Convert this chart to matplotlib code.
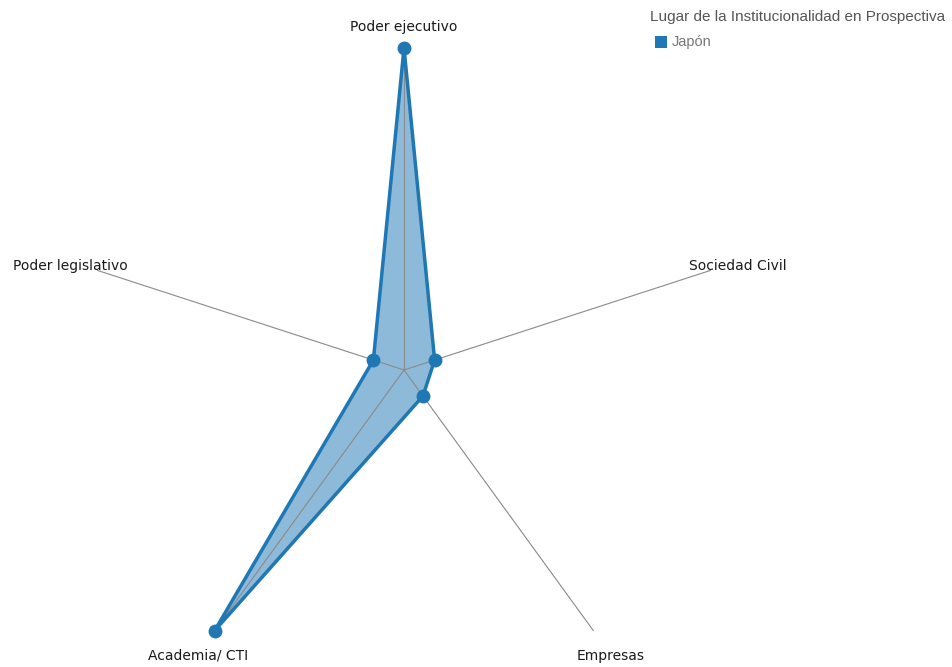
import numpy as np
import matplotlib.pyplot as plt
from matplotlib.patches import Rectangle

categories = ["Poder ejecutivo", "Sociedad Civil", "Empresas", "Academia/ CTI", "Poder legislativo"]
japon = [10, 1, 1, 10, 1]
series_name = "Japón"
legend_title = "Lugar de la Institucionalidad en Prospectiva"

color = "#1f77b4"
W, H = 953, 667
cx, cy, R = 404, 370, 322

fig = plt.figure(figsize=(W / 100, H / 100), dpi=100)
ax = fig.add_axes([(cx - R) / W, (H - cy - R) / H, 2 * R / W, 2 * R / H], projection="polar")
ax.set_theta_zero_location("N")
ax.set_theta_direction(-1)
ax.set_ylim(0, 10)
ax.axis("off")

angles = np.linspace(0, 2 * np.pi, len(categories), endpoint=False)

# spokes
for a in angles:
    ax.plot([a, a], [0, 10], color="#8a8a8a", lw=0.8, zorder=3, clip_on=False)

# series
a_closed = np.append(angles, angles[0])
v_closed = np.append(japon, japon[0])
ax.fill(a_closed, v_closed, color=color, alpha=0.5, lw=0, zorder=2, clip_on=False)
ax.plot(a_closed, v_closed, color=color, lw=2.5, zorder=4, clip_on=False)
ax.plot(angles, japon, "o", color=color, ms=9, zorder=5, clip_on=False)

# category labels (small pixel offsets to sit like the original)
offsets = [(0, -2), (0, -4), (0, -2), (0, -2), (0, -4)]
for a, lab, off in zip(angles, categories, offsets):
    r = 10.7 if a == 0 else 10.9
    ax.annotate(lab, xy=(a, r), xytext=off, textcoords="offset pixels",
                ha="center", va="center", fontsize=10, color="#1a1a1a",
                family="DejaVu Sans", annotation_clip=False)

# legend
fig.text(650 / W, 1 - 17 / H, legend_title, ha="left", va="center", fontsize=11,
         color="#555555", family="Liberation Sans")
fig.patches.append(Rectangle((655 / W, 1 - 48 / H), 12 / W, 12 / H, transform=fig.transFigure,
                             facecolor=color, edgecolor="none"))
fig.text(672 / W, 1 - 42 / H, series_name, ha="left", va="center", fontsize=10.5,
         color="#777777", family="Liberation Sans")

fig.savefig("out.png", dpi=100)
